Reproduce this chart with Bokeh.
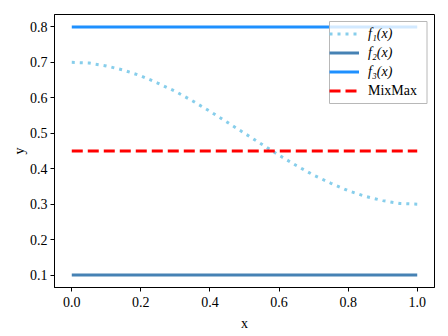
from bokeh.plotting import figure
from bokeh.models import Range1d, FixedTicker, PrintfTickFormatter, Legend, LegendItem, BoxAnnotation
from bokeh.embed import file_html
from bokeh.resources import INLINE

# data
x_vals = [0.0, 0.05, 0.1, 0.15, 0.2, 0.25, 0.3, 0.35, 0.4, 0.45, 0.5,
          0.55, 0.6, 0.65, 0.7, 0.75, 0.8, 0.85, 0.9, 0.95, 1.0]
f1_vals = [0.700, 0.698, 0.690, 0.678, 0.662, 0.641, 0.618, 0.591, 0.562, 0.531, 0.500,
           0.469, 0.438, 0.409, 0.382, 0.359, 0.338, 0.322, 0.310, 0.302, 0.300]
f2_vals = [0.1] * len(x_vals)
f3_vals = [0.8] * len(x_vals)
mixmax_vals = [0.45] * len(x_vals)
x_ticks = [0.0, 0.2, 0.4, 0.6, 0.8, 1.0]
y_ticks = [0.1, 0.2, 0.3, 0.4, 0.5, 0.6, 0.7, 0.8]
func_labels = ["f₁(x)", "f₂(x)", "f₃(x)"]
mix_label = "MixMax"

FONT = "Liberation Serif"
X0, X1 = -0.05, 1.05
Y0, Y1 = 0.065, 0.835
W, H = 448, 336
ML, MR, MT, MB = 54, 14, 14, 49
FW, FH = W - ML - MR, H - MT - MB

p = figure(width=W, height=H, output_backend="svg", toolbar_location=None,
           x_range=Range1d(X0, X1), y_range=Range1d(Y0, Y1),
           min_border_left=ML, min_border_right=MR, min_border_top=MT, min_border_bottom=MB)
p.grid.visible = False
p.outline_line_color = "black"
p.outline_line_width = 1
p.background_fill_color = "white"
p.border_fill_color = "white"

r1 = p.line(x_vals, f1_vals, line_color="#87CEEB", line_width=3, line_dash="3 5")
r2 = p.line(x_vals, f2_vals, line_color="#4682B4", line_width=3)
r3 = p.line(x_vals, f3_vals, line_color="#1E90FF", line_width=3)
r4 = p.line(x_vals, mixmax_vals, line_color="red", line_width=3, line_dash="11 5")

for ax in (p.xaxis[0], p.yaxis[0]):
    ax.major_label_text_font = FONT
    ax.major_label_text_font_size = "14px"
    ax.major_label_text_color = "black"
    ax.axis_label_text_font = FONT
    ax.axis_label_text_font_size = "14px"
    ax.axis_label_text_font_style = "normal"
    ax.axis_label_text_color = "black"
    ax.minor_tick_line_color = None
    ax.major_tick_out = 4
    ax.major_tick_in = 0
    ax.major_tick_line_color = "black"
    ax.axis_line_color = "black"
    ax.formatter = PrintfTickFormatter(format="%.1f")

p.xaxis[0].ticker = FixedTicker(ticks=x_ticks)
p.yaxis[0].ticker = FixedTicker(ticks=y_ticks)
p.xaxis[0].axis_label = "x"
p.yaxis[0].axis_label = "y"
p.xaxis[0].major_label_standoff = 5
p.yaxis[0].major_label_standoff = 3
p.xaxis[0].axis_label_standoff = 6
p.yaxis[0].axis_label_standoff = 0

# legend frame (pixel box converted to the fixed ranges)
def px_x(px):
    return X0 + (px - ML) / FW * (X1 - X0)

def px_y(py):
    return Y1 - (py - MT) / FH * (Y1 - Y0)

box = BoxAnnotation(left=px_x(329), right=px_x(426.5), top=px_y(21), bottom=px_y(103),
                    fill_color="white", fill_alpha=0.8,
                    line_color="#b8b8b8", line_alpha=1.0, line_width=1)
p.add_layout(box)

def style_legend(lg, italic):
    lg.label_text_font = FONT
    lg.label_text_font_size = "14px"
    lg.label_text_font_style = "italic" if italic else "normal"
    lg.label_text_color = "black"
    lg.glyph_width = 30
    lg.glyph_height = 17
    lg.label_height = 17
    lg.spacing = 2
    lg.padding = 4
    lg.margin = 0
    lg.label_standoff = 9
    lg.border_line_color = None
    lg.background_fill_color = None
    lg.background_fill_alpha = 0

legend_a = Legend(items=[LegendItem(label=func_labels[0], renderers=[r1]),
                         LegendItem(label=func_labels[1], renderers=[r2]),
                         LegendItem(label=func_labels[2], renderers=[r3])],
                  location=(329 - ML, MT + FH - 80))
legend_b = Legend(items=[LegendItem(label=mix_label, renderers=[r4])],
                  location=(329 - ML, MT + FH - 99))
style_legend(legend_a, True)
style_legend(legend_b, False)
p.add_layout(legend_a)
p.add_layout(legend_b)

open("out.html", "w").write(file_html(p, INLINE))
